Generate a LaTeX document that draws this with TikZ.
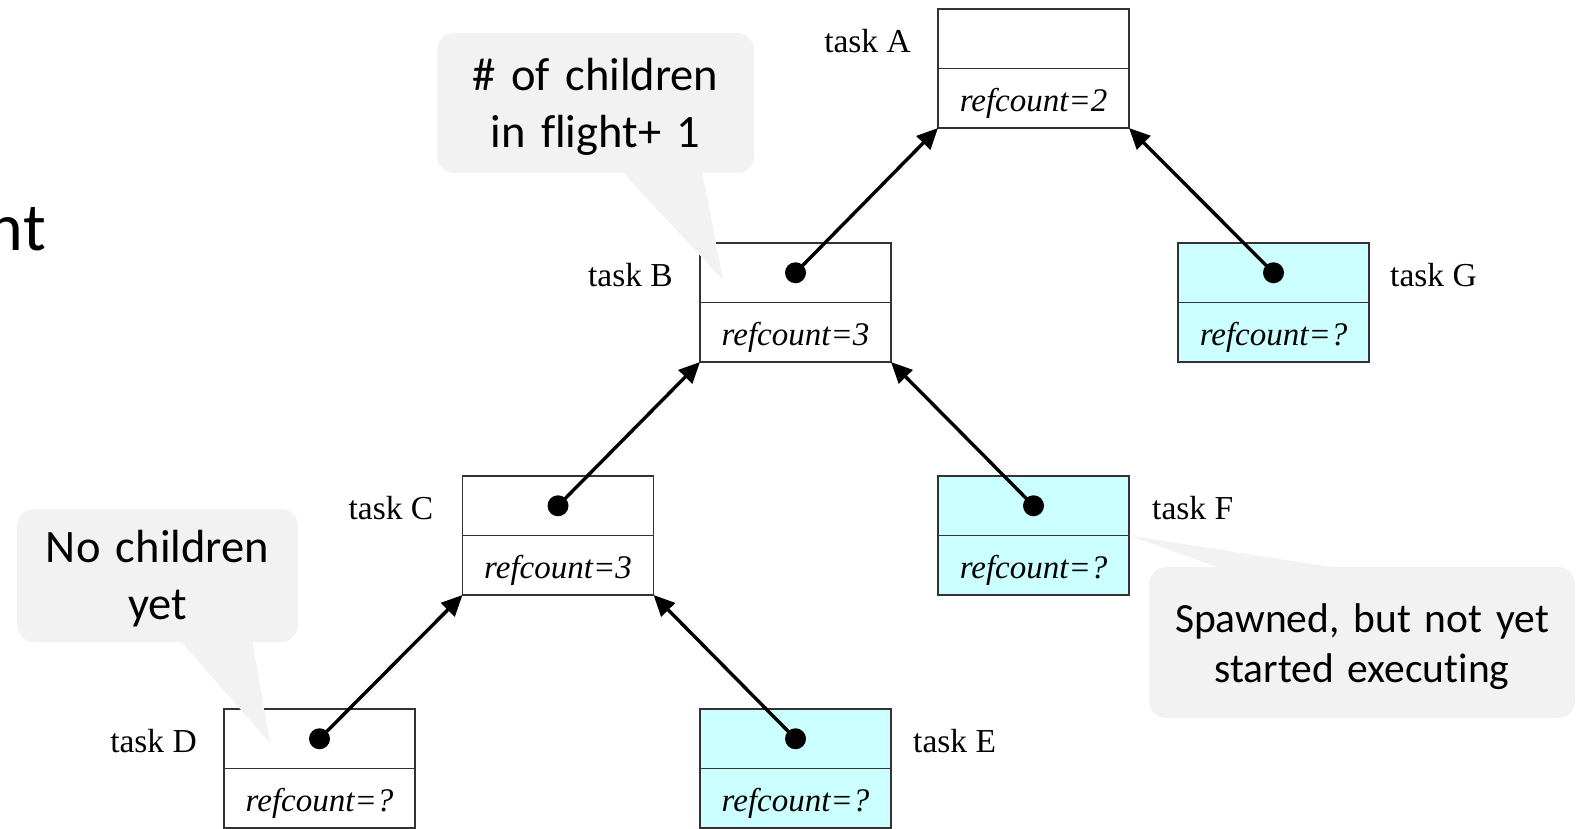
\documentclass[tikz,border=0pt]{standalone}
\usepackage{fontspec}
\setmainfont{Liberation Serif}
\newfontfamily\calloutfont[Ligatures=NoCommon]{Carlito}
\usetikzlibrary{arrows.meta}
\definecolor{spawned}{HTML}{CCFFFF}
\definecolor{bubblegray}{HTML}{F2F2F2}

% one task: upper half (name #1) and lower half with the reference count (name #1c)
\newcommand\taskbox[5]{%
  \node[half, fill=#4] (#1) at (#2,#3) {};
  \node[half, fill=#4, text height=33pt, text depth=6pt] (#1c) at (#1.south)
       {\textit{refcount=#5}};
}

\begin{document}
\begin{tikzpicture}[x=1pt,y=-1pt,
  half/.style={draw=black!80, line width=1.3pt, minimum width=191pt,
               minimum height=59.5pt, inner sep=0pt, outer sep=0pt,
               anchor=north, font=\fontsize{33}{40}\selectfont},
  tasklabel/.style={inner sep=0pt, font=\fontsize{33.5}{40}\selectfont},
  link/.style={line width=3.4pt, -{Triangle[length=21pt,width=19pt]}},
  dot/.style={fill=black},
  bubble/.style={fill=bubblegray, rounded corners=17pt, inner sep=0pt},
  bubbletext/.style={inner sep=0pt, align=center, anchor=base},
  bigcallout/.style={font=\calloutfont\fontsize{46.5}{57}\selectfont},
  smallcallout/.style={font=\calloutfont\fontsize{41.5}{50}\selectfont}]

\useasboundingbox (0,0) rectangle (1580,828);

% heading text running in from the left
\node[inner sep=0pt, anchor=base east, font=\calloutfont\fontsize{68}{80}\selectfont]
  (head) at (46,250) {nt};

% task tree
\taskbox{A}{1033.5}{9}{white}{2}
\taskbox{B}{795.5}{243}{white}{3}
\taskbox{G}{1273.5}{243}{spawned}{?}
\taskbox{C}{558}{476}{white}{3}
\taskbox{F}{1033.5}{476}{spawned}{?}
\taskbox{D}{319.5}{709}{white}{?}
\taskbox{E}{795.5}{709}{spawned}{?}

% task names
\node[tasklabel, anchor=base east] (lA) at ([xshift=-27pt,yshift=-14pt]A.west) {task A};
\node[tasklabel, anchor=base east] (lB) at ([xshift=-27pt,yshift=-14pt]B.west) {task B};
\node[tasklabel, anchor=base west] (lG) at ([xshift=21pt,yshift=-14pt]G.east) {task G};
\node[tasklabel, anchor=base east] (lC) at ([xshift=-29pt,yshift=-14pt]C.west) {task C};
\node[tasklabel, anchor=base west] (lF) at ([xshift=23pt,yshift=-14pt]F.east) {task F};
\node[tasklabel, anchor=base east] (lD) at ([xshift=-27pt,yshift=-14pt]D.west) {task D};
\node[tasklabel, anchor=base west] (lE) at ([xshift=22pt,yshift=-14pt]E.east) {task E};

% child -> parent links
\draw[link] (B.center) -- (Ac.south west);
\draw[link] (G.center) -- (Ac.south east);
\draw[link] (C.center) -- (Bc.south west);
\draw[link] (F.center) -- (Bc.south east);
\draw[link] (D.center) -- (Cc.south west);
\draw[link] (E.center) -- (Cc.south east);
\foreach \t in {B,G,C,F,D,E} \fill[dot] (\t.center) circle (10.5pt);

% callouts
\node[bubble, minimum width=317pt, minimum height=140pt] (b1) at (595.5,103) {};
\coordinate (b1tip) at (723,280);
\fill[bubblegray] ([xshift=28pt]b1.south) -- (b1tip) -- ([xshift=107pt]b1.south) -- cycle;
\node[bubbletext, bigcallout, text width=317pt] (t1) at (595.5,90) {\# of children\\in flight+ 1};

\node[bubble, minimum width=281pt, minimum height=133pt] (b2) at (157.5,575.5) {};
\coordinate (b2tip) at (270,743);
\fill[bubblegray] ([xshift=24pt]b2.south) -- (b2tip) -- ([xshift=95pt]b2.south) -- cycle;
\node[bubbletext, bigcallout, text width=281pt] (t2) at (157.5,562) {No children\\yet};

\node[bubble, minimum width=426pt, minimum height=151pt] (b3) at (1362,642.5) {};
\fill[bubblegray] ([xshift=-145pt]b3.north) -- (Fc.north east) -- ([xshift=-32pt]b3.north) -- cycle;
\node[bubbletext, smallcallout, text width=426pt] (t3) at (1362,632) {Spawned, but not yet\\started executing};

\end{tikzpicture}
\end{document}
